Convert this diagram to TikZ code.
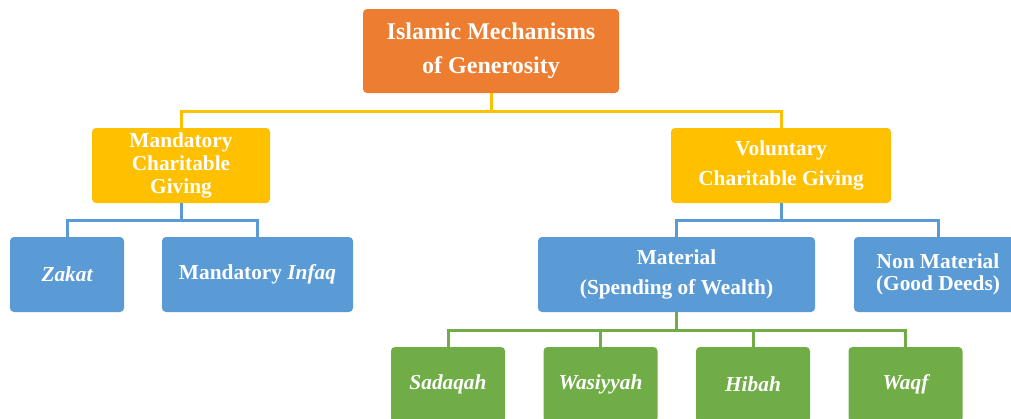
\documentclass[tikz,border=0pt]{standalone}
\usepackage{fontspec}
\setmainfont{Liberation Serif}
\tikzset{>=stealth}
\usetikzlibrary{positioning}
\definecolor{orangeBox}{HTML}{ED7D31}
\definecolor{goldBox}{HTML}{FFC000}
\definecolor{blueBox}{HTML}{5B9BD5}
\definecolor{greenBox}{HTML}{70AD47}
\tikzset{
	box/.style={rounded corners=3pt, text=white, align=center, inner sep=0pt, minimum height=56.25pt, font=\bfseries\fontsize{16}{17}\selectfont},
	link/.style={line width=2.25pt},
}

\begin{document}
\begin{tikzpicture}[x=0.75pt,y=-0.75pt]
				\useasboundingbox (0,0) rectangle (1011,418);
				\clip (0,0) rectangle (1011,418);
				\node [box,fill=orangeBox,minimum width=192pt,minimum height=63pt,font=\bfseries\fontsize{18}{25.5}\selectfont] (gen) at (491,51) {Islamic Mechanisms\\of Generosity};
				
				\node [box,fill=goldBox,minimum width=133.5pt] (mand) at (181,165.5) {Mandatory\\Charitable\\Giving};
				\node [box,fill=goldBox,minimum width=165pt] (vol) at (781,165.5) {Voluntary\\[6pt]Charitable Giving};
				
				\node [box,fill=blueBox,minimum width=85.5pt] (zakat) at (67,274.5) {\itshape Zakat};
				\node [box,fill=blueBox,minimum width=143.25pt] (infaq) at (257.5,274.5) {Mandatory \textit{Infaq}};
				\node [box,fill=blueBox,minimum width=207.75pt] (mat) at (676.5,274.5) {Material\\[5.5pt](Spending of Wealth)};
				\node [box,fill=blueBox,minimum width=126pt] (nonmat) at (938,274.5) {Non Material\\(Good Deeds)};
				
				\node [box,fill=greenBox,minimum width=85.5pt] (sadaqah) at (448,384.5) {\itshape Sadaqah};
				\node [box,fill=greenBox,minimum width=85.5pt] (wasiyyah) at (600.5,384.5) {\itshape Wasiyyah};
				\node [box,fill=greenBox,minimum width=85.5pt] (hibah) at (753,384.5) {\itshape Hibah};
				\node [box,fill=greenBox,minimum width=85.5pt] (waqf) at (905.5,384.5) {\itshape Waqf};
				
				\draw [link,goldBox] (gen.south) -- ++(0,18) -| (mand.north);
				\draw [link,goldBox] (gen.south) -- ++(0,18) -| (vol.north);
				\draw [link,blueBox] (mand.south) -- ++(0,17) -| (zakat.north);
				\draw [link,blueBox] (mand.south) -- ++(0,17) -| (infaq.north);
				\draw [link,blueBox] (vol.south) -- ++(0,17) -| (mat.north);
				\draw [link,blueBox] (vol.south) -- ++(0,17) -| (nonmat.north);
				\foreach \g in {sadaqah,wasiyyah,hibah,waqf}
					\draw [link,greenBox] (mat.south) -- ++(0,18) -| (\g.north);
				\end{tikzpicture}
\end{document}
